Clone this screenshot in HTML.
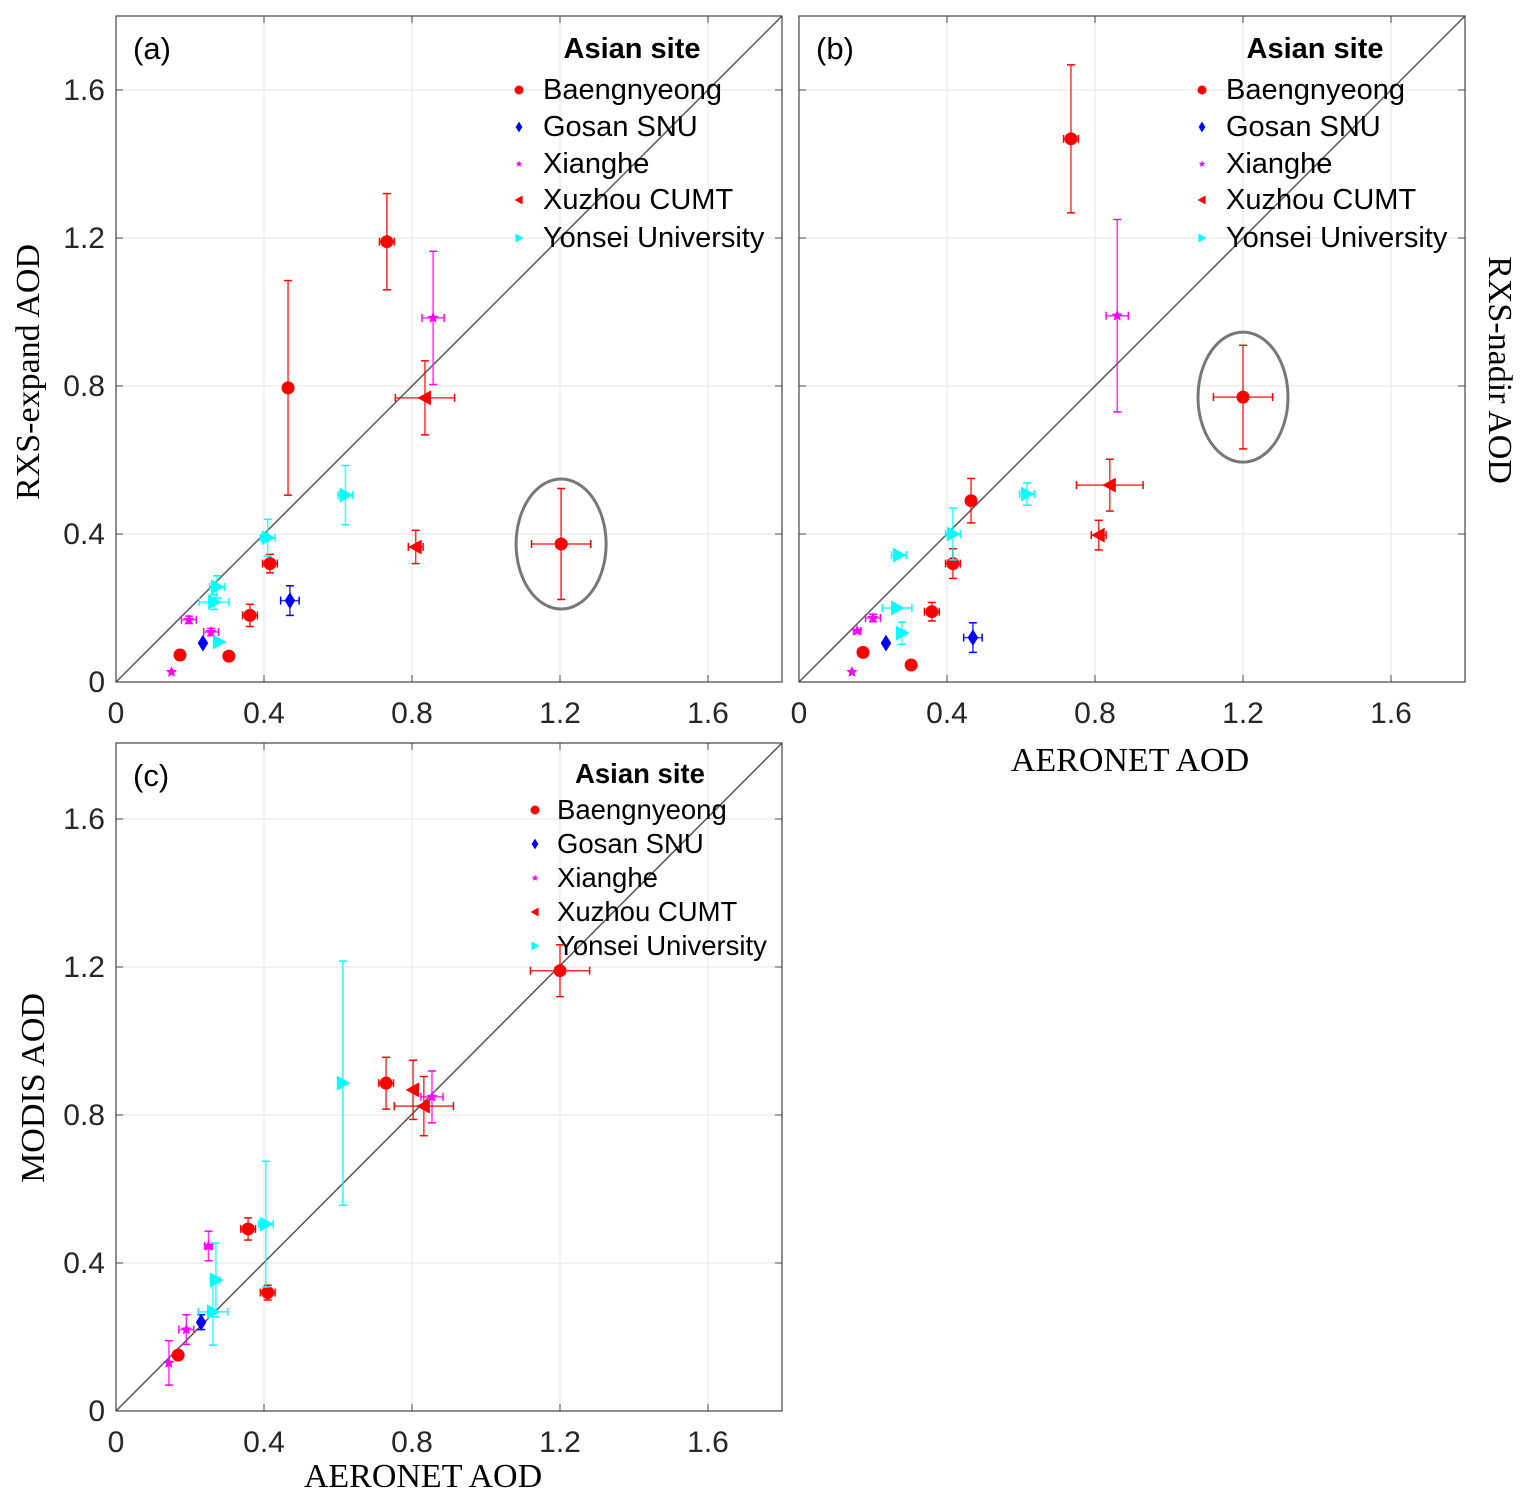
<!DOCTYPE html>
<html><head><meta charset="utf-8"><style>
body{margin:0;background:#fff;}
svg{display:block;}
</style></head><body>
<svg id="chart" width="1528" height="1502" viewBox="0 0 1528 1502" xmlns="http://www.w3.org/2000/svg"></svg>
<script>
const sites = ["Baengnyeong","Gosan SNU","Xianghe","Xuzhou CUMT","Yonsei University"];
const ticks = [0,0.4,0.8,1.2,1.6];
const tickLabels = ["0","0.4","0.8","1.2","1.6"];
// Panel (a): RXS-expand vs AERONET
const aBaeX=[0.173,0.305,0.362,0.416,0.465,0.732,1.203], aBaeY=[0.073,0.07,0.18,0.32,0.795,1.19,0.373], aBaeYE=[0,0,0.03,0.025,0.29,0.13,0.15], aBaeXE=[0,0,0.02,0.02,0,0.02,0.08];
const aGosX=[0.235,0.47], aGosY=[0.105,0.22], aGosYE=[0,0.04], aGosXE=[0,0.025];
const aXiaX=[0.15,0.197,0.257,0.857], aXiaY=[0.027,0.168,0.135,0.984], aXiaYE=[0,0.01,0.01,0.18], aXiaXE=[0,0.02,0.02,0.03];
const aXuzX=[0.835,0.81], aXuzY=[0.768,0.365], aXuzYE=[0.1,0.045], aXuzXE=[0.08,0.02];
const aYonX=[0.62,0.41,0.273,0.265,0.278], aYonY=[0.505,0.39,0.257,0.216,0.108], aYonYE=[0.08,0.05,0.03,0.02,0], aYonXE=[0.02,0.02,0.02,0.04,0];
// Panel (b): RXS-nadir
const bBaeX=[0.173,0.303,0.359,0.416,0.465,0.735,1.2], bBaeY=[0.08,0.046,0.19,0.32,0.49,1.468,0.77], bBaeYE=[0,0,0.025,0.04,0.06,0.2,0.14], bBaeXE=[0,0,0.02,0.02,0,0.02,0.08];
const bGosX=[0.235,0.47], bGosY=[0.105,0.12], bGosYE=[0,0.04], bGosXE=[0,0.025];
const bXiaX=[0.143,0.157,0.2,0.86], bXiaY=[0.027,0.138,0.173,0.99], bXiaYE=[0,0,0.01,0.26], bXiaXE=[0,0.01,0.02,0.03];
const bXuzX=[0.84,0.81], bXuzY=[0.532,0.397], bXuzYE=[0.07,0.04], bXuzXE=[0.09,0.02];
const bYonX=[0.616,0.416,0.27,0.265,0.278], bYonY=[0.508,0.4,0.343,0.2,0.132], bYonYE=[0.03,0.07,0,0,0.03], bYonXE=[0.02,0.02,0.02,0.04,0.01];
// Panel (c): MODIS
const cBaeX=[0.168,0.357,0.41,0.73,1.2], cBaeY=[0.151,0.492,0.32,0.886,1.19], cBaeYE=[0.01,0.03,0.02,0.07,0.07], cBaeXE=[0,0.02,0.02,0.02,0.08];
const cGosX=[0.23], cGosY=[0.24], cGosYE=[0.02], cGosXE=[0];
const cXiaX=[0.143,0.19,0.25,0.854], cXiaY=[0.13,0.22,0.446,0.849], cXiaYE=[0.06,0.04,0.04,0.07], cXiaXE=[0,0.02,0.01,0.03];
const cXuzX=[0.803,0.832], cXuzY=[0.868,0.824], cXuzYE=[0.08,0.08], cXuzXE=[0,0.08];
const cYonX=[0.613,0.405,0.27,0.262], cYonY=[0.886,0.505,0.354,0.268], cYonYE=[0.33,0.17,0.1,0.09], cYonXE=[0,0.02,0.01,0.04];

const NS="http://www.w3.org/2000/svg";
const svg=document.getElementById('chart');
function el(tag,attrs,parent){const e=document.createElementNS(NS,tag);for(const k in attrs)e.setAttribute(k,attrs[k]);(parent||svg).appendChild(e);return e;}
const colors=["#ff0000","#0000ff","#ff00ff","#ff0000","#00ffff"];
const shapes=["circle","diamond","star","tri-left","tri-right"];

function marker(g,shape,cx,cy,s,color){
  let e;
  if(shape==="circle"){e=el('circle',{cx:cx,cy:cy,r:s,fill:color},g);}
  else if(shape==="diamond"){e=el('polygon',{points:`${cx},${cy-s*1.2} ${cx+s*0.75},${cy} ${cx},${cy+s*1.2} ${cx-s*0.75},${cy}`,fill:color},g);}
  else if(shape==="star"){let p=[];for(let i=0;i<10;i++){const r=i%2?s*0.45:s;const a=-Math.PI/2+i*Math.PI/5;p.push((cx+r*Math.cos(a)).toFixed(1)+','+(cy+r*Math.sin(a)).toFixed(1));}e=el('polygon',{points:p.join(' '),fill:color},g);}
  else if(shape==="tri-left"){e=el('polygon',{points:`${cx-s},${cy} ${cx+s*0.8},${cy-s} ${cx+s*0.8},${cy+s}`,fill:color},g);}
  else {e=el('polygon',{points:`${cx+s},${cy} ${cx-s*0.8},${cy-s} ${cx-s*0.8},${cy+s}`,fill:color},g);}
  return e;
}

function panel(id,x0,yTop,w,h,series,letter,legend,showY){
  const pxPer=370, y0=yTop+h;
  const sx=v=>x0+v*pxPer, sy=v=>y0-v*pxPer;
  const g=el('g',{});
  
  
  ticks.forEach((t,i)=>{
    if(t>0){
      const gx=el('line',{x1:sx(t),x2:sx(t),y1:yTop,y2:y0,stroke:'#e6e6e6','stroke-width':1},g);
      
      const gy=el('line',{x1:x0,x2:x0+w,y1:sy(t),y2:sy(t),stroke:'#e6e6e6','stroke-width':1},g);
      
    }
    el('line',{x1:sx(t),x2:sx(t),y1:y0,y2:y0-7,stroke:'#444'},g);
    el('line',{x1:sx(t),x2:sx(t),y1:yTop,y2:yTop+7,stroke:'#444'},g);
    el('line',{x1:x0,x2:x0+7,y1:sy(t),y2:sy(t),stroke:'#444'},g);
    el('line',{x1:x0+w,x2:x0+w-7,y1:sy(t),y2:sy(t),stroke:'#444'},g);
    const xl=el('text',{x:sx(t),y:y0+41,'font-size':30,'font-family':'Liberation Sans, sans-serif','text-anchor':'middle',fill:'#262626'},g);
    xl.textContent=tickLabels[i];
    
    if(showY){
      const yl=el('text',{x:x0-11,y:sy(t)+10,'font-size':30,'font-family':'Liberation Sans, sans-serif','text-anchor':'end',fill:'#262626'},g);
      yl.textContent=tickLabels[i];
      
    }
  });
  const ol=el('line',{x1:x0,y1:y0,x2:x0+w,y2:yTop,stroke:'#555','stroke-width':1.5},g);
  
  const bx=el('rect',{x:x0,y:yTop,width:w,height:h,fill:'none',stroke:'#444','stroke-width':1.2},g);
  
  series.forEach((s,si)=>{
    const sg=el('g',{},g);
    
    
    const c=colors[si];
    s.x.forEach((xv,i)=>{
      const cx=sx(xv), cy=sy(s.y[i]);
      const ye=s.ye[i]*pxPer, xe=s.xe[i]*pxPer;
      if(ye>0){
        el('line',{x1:cx,x2:cx,y1:cy-ye,y2:cy+ye,stroke:c,'stroke-width':1.5,opacity:0.8},sg);
        el('line',{x1:cx-4,x2:cx+4,y1:cy-ye,y2:cy-ye,stroke:c,'stroke-width':1.5},sg);
        el('line',{x1:cx-4,x2:cx+4,y1:cy+ye,y2:cy+ye,stroke:c,'stroke-width':1.5},sg);
      }
      if(xe>0){
        el('line',{x1:cx-xe,x2:cx+xe,y1:cy,y2:cy,stroke:c,'stroke-width':1.5,opacity:0.8},sg);
        el('line',{x1:cx-xe,x2:cx-xe,y1:cy-4,y2:cy+4,stroke:c,'stroke-width':1.5},sg);
        el('line',{x1:cx+xe,x2:cx+xe,y1:cy-4,y2:cy+4,stroke:c,'stroke-width':1.5},sg);
      }
      const sz={circle:6.5,diamond:7,star:6,"tri-left":7.5,"tri-right":7.5}[shapes[si]];
      const m=marker(sg,shapes[si],cx,cy,sz,c);
      
      
    });
  });
  const pl=el('text',{x:x0+17,y:yTop+43,'font-size':31,'font-family':'Liberation Sans, sans-serif',fill:'#000'},g);
  pl.textContent=letter;
  
  const lg=el('g',{},g);
  
  const lt=el('text',{x:legend.tx,y:legend.ty,'font-size':legend.fs,'font-weight':'bold','font-family':'Liberation Sans, sans-serif','text-anchor':'middle'},lg);
  lt.textContent='Asian site';
  
  sites.forEach((nm,i)=>{
    const yy=legend.ys[i];
    const lm=marker(lg,shapes[i],legend.mx,yy-9,shapes[i]==='star'?3.5:4.5,colors[i]);
    
    const t=el('text',{x:legend.lx,y:yy,'font-size':legend.fs,'font-family':'Liberation Sans, sans-serif',fill:'#000'},lg);
    t.textContent=nm;
    
  });
  return {sx,sy,g};
}
function ser(X,Y,YE,XE){return {x:X,y:Y,ye:YE,xe:XE};}

const pa=panel('a',116,16,666,666,[ser(aBaeX,aBaeY,aBaeYE,aBaeXE),ser(aGosX,aGosY,aGosYE,aGosXE),ser(aXiaX,aXiaY,aXiaYE,aXiaXE),ser(aXuzX,aXuzY,aXuzYE,aXuzXE),ser(aYonX,aYonY,aYonYE,aYonXE)],'(a)',{tx:632,ty:58,mx:519,lx:543,fs:29,ys:[99,136,173,209,247]},true);
const pb=panel('b',799,16,666,666,[ser(bBaeX,bBaeY,bBaeYE,bBaeXE),ser(bGosX,bGosY,bGosYE,bGosXE),ser(bXiaX,bXiaY,bXiaYE,bXiaXE),ser(bXuzX,bXuzY,bXuzYE,bXuzXE),ser(bYonX,bYonY,bYonYE,bYonXE)],'(b)',{tx:1315,ty:58,mx:1202,lx:1226,fs:29,ys:[99,136,173,209,247]},false);
const pc=panel('c',116,743,666,668,[ser(cBaeX,cBaeY,cBaeYE,cBaeXE),ser(cGosX,cGosY,cGosYE,cGosXE),ser(cXiaX,cXiaY,cXiaYE,cXiaXE),ser(cXuzX,cXuzY,cXuzYE,cXuzXE),ser(cYonX,cYonY,cYonYE,cYonXE)],'(c)',{tx:640,ty:783,mx:535,lx:557,fs:27.5,ys:[819,853,887,921,955]},true);

const e1=el('ellipse',{cx:pa.sx(1.203),cy:pa.sy(0.373),rx:45,ry:65,fill:'none',stroke:'#777','stroke-width':3});

const e2=el('ellipse',{cx:pb.sx(1.2),cy:pb.sy(0.77),rx:45,ry:65,fill:'none',stroke:'#777','stroke-width':3});


function label(txt,x,y,rot,name){
  const t=el('text',{x:x,y:y,'font-size':34,'font-family':'Liberation Serif, serif','text-anchor':'middle',fill:'#000',transform:rot?`rotate(${rot} ${x} ${y})`:''});
  t.textContent=txt;
  
}
label('RXS-expand AOD',39,372,-90,'y-axis-title-a');
label('RXS-nadir AOD',1489,370,90,'y-axis-title-b');
label('AERONET AOD',1130,771,0,'x-axis-title-b');
label('AERONET AOD',423,1487,0,'x-axis-title-c');
label('MODIS AOD',44,1088,-90,'y-axis-title-c');
</script>
</body></html>
